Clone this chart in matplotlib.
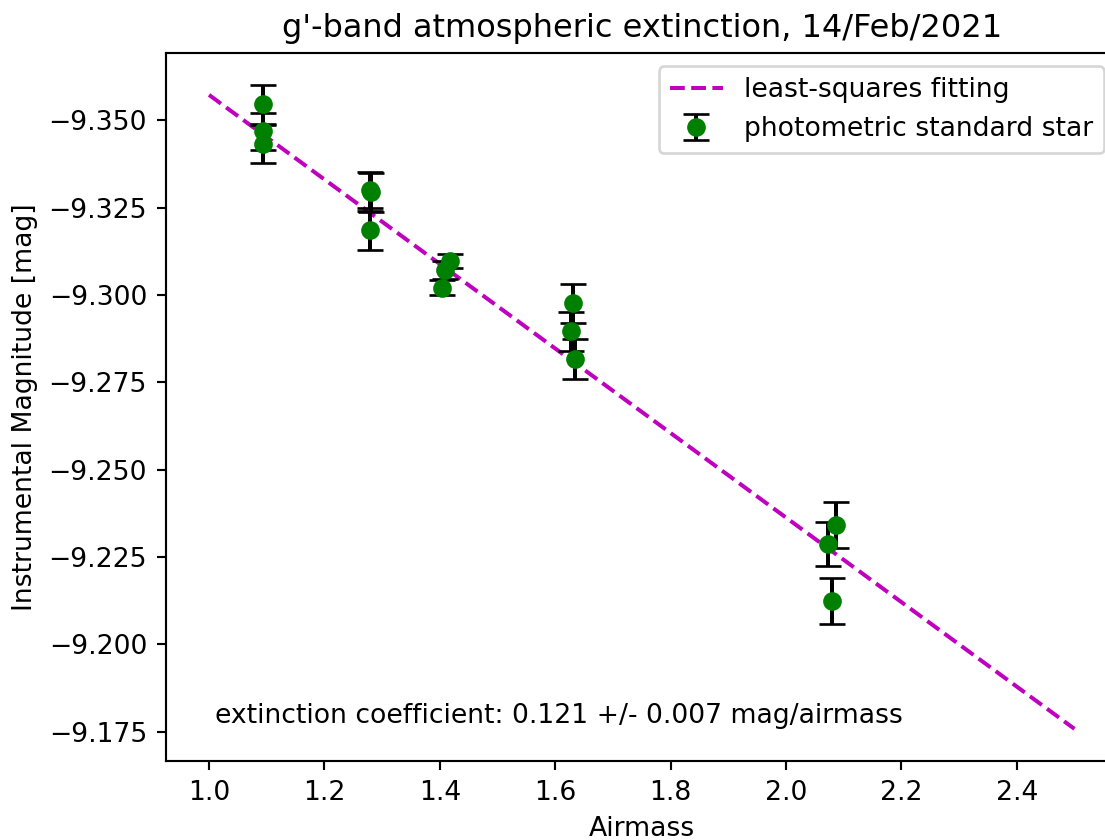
import numpy as np
import matplotlib
matplotlib.use("Agg")
import matplotlib.pyplot as plt

# standard star measurements
airmass = [1.094, 1.094, 1.094,
           1.279, 1.280, 1.279,
           1.418, 1.409, 1.404,
           1.631, 1.628, 1.635,
           2.086, 2.073, 2.079]
inst_mag = [-9.3546, -9.3469, -9.3432,
            -9.3301, -9.3294, -9.3185,
            -9.3097, -9.3071, -9.3021,
            -9.2976, -9.2896, -9.2817,
            -9.2342, -9.2287, -9.2124]
mag_err = [0.0055, 0.0053, 0.0055,
           0.0052, 0.0055, 0.0055,
           0.0021, 0.0026, 0.0021,
           0.0057, 0.0056, 0.0058,
           0.0065, 0.0063, 0.0065]

# least-squares result
k_ext = 0.121
k_err = 0.007
zero_point = -9.4783
fit_range = [1.0, 2.5]

DPI = 192
fig = plt.figure(figsize=(1105 / DPI, 840 / DPI), dpi=DPI)
ax = fig.add_axes([0.15, 0.094, 0.8615, 0.843])

xfit = np.linspace(fit_range[0], fit_range[1], 50)
ax.plot(xfit, zero_point + k_ext * xfit, 'm--', label='least-squares fitting')
ax.errorbar(airmass, inst_mag, yerr=mag_err, fmt='go', ecolor='k', capsize=5,
            label='photometric standard star')

ax.invert_yaxis()
ax.set_xticks([1.0, 1.2, 1.4, 1.6, 1.8, 2.0, 2.2, 2.4])
ax.set_xlabel('Airmass')
ax.set_ylabel('Instrumental Magnitude [mag]')
ax.set_title("g'-band atmospheric extinction, 14/Feb/2021")
ax.text(1.01, -9.1795, f'extinction coefficient: {k_ext:.3f} +/- {k_err:.3f} mag/airmass',
        va='center')
ax.legend(loc='upper right')

fig.savefig('out.png', dpi=DPI)
